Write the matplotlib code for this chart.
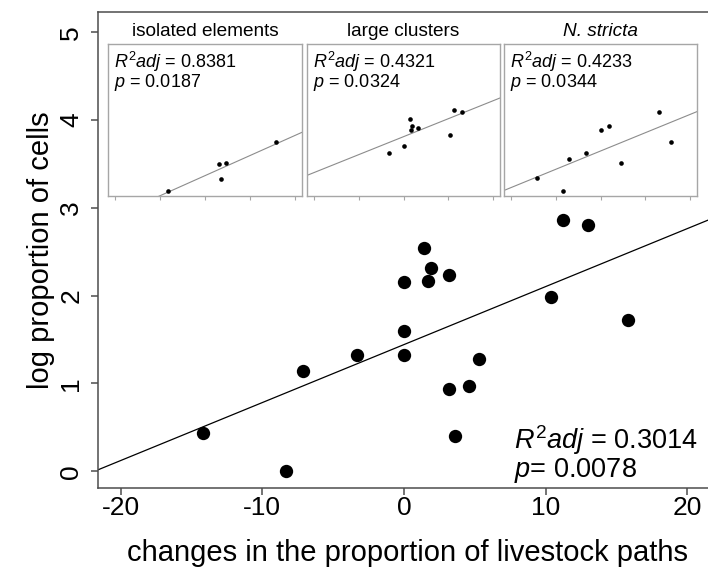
import numpy as np
import matplotlib
matplotlib.use("Agg")
import matplotlib.pyplot as plt

plt.rcParams["font.family"] = ["Liberation Sans", "DejaVu Sans"]
plt.rcParams["mathtext.fontset"] = "custom"
plt.rcParams["mathtext.rm"] = "Liberation Sans"
plt.rcParams["mathtext.it"] = "Liberation Sans:italic"

# change in the proportion of livestock paths (x) vs log proportion of cells (y)
path_change = [-14.2, -8.3, -7.1, -3.3, 0.0, 0.0, 0.0, 1.4, 1.9, 1.7,
               3.2, 3.2, 4.6, 5.3, 3.6, 11.2, 13.0, 10.4, 15.8]
log_cells = [0.44, 0.00, 1.14, 1.33, 2.15, 1.60, 1.33, 2.54, 2.32, 2.17,
             2.23, 0.94, 0.97, 1.28, 0.40, 2.86, 2.81, 1.99, 1.72]

# subsets shown in the small panels (indices into the arrays above)
panel_titles = ["isolated elements", "large clusters", "N. stricta"]
panel_members = [
    [1, 11, 12, 14, 18],
    [3, 5, 7, 8, 9, 10, 17, 15, 16],
    [0, 1, 2, 3, 4, 8, 12, 16, 18],
]
panel_r2 = ["0.8381", "0.4321", "0.4233"]
panel_p = ["0.0187", "0.0324", "0.0344"]

main_r2 = "0.3014"
main_p = "0.0078"

x_ticks = [-20, -10, 0, 10, 20]
y_ticks = [0, 1, 2, 3, 4, 5]
xlim = (-21.6, 21.6)
ylim = (-0.19, 5.23)

W, H = 708, 571
fig = plt.figure(figsize=(W / 100, H / 100), dpi=100)


def px_axes(x0, y0, x1, y1):
    return fig.add_axes([x0 / W, 1 - y1 / H, (x1 - x0) / W, (y1 - y0) / H])


def fig_xy(px, py):
    return px / W, 1 - py / H


spine_col = "#4d4d4d"
x = np.array(path_change)
y = np.array(log_cells)

ax = px_axes(98, 12, 710, 488)
ax.set_xlim(*xlim)
ax.set_ylim(*ylim)
ax.scatter(x, y, s=92, color="black", zorder=3, linewidths=0)
b, a = np.polyfit(x, y, 1)
xx = np.array(xlim)
ax.plot(xx, a + b * xx, color="black", lw=0.9, zorder=2)

for side in ["left", "bottom", "top"]:
    ax.spines[side].set_color(spine_col)
    ax.spines[side].set_linewidth(1.1)
ax.spines["right"].set_visible(False)
ax.set_xticks(x_ticks)
ax.set_yticks(y_ticks)
ax.set_xticklabels([str(t) for t in x_ticks])
ax.set_yticklabels([str(t) for t in y_ticks], rotation=90, va="center")
ax.tick_params(axis="both", direction="out", length=5.2, width=1.1,
               color=spine_col, labelsize=19, labelcolor="black")
ax.tick_params(axis="x", pad=0.5)
ax.tick_params(axis="y", pad=5.5)
ax.set_xlabel("changes in the proportion of livestock paths", fontsize=21)
ax.set_ylabel("log proportion of cells", fontsize=21)
ax.xaxis.set_label_coords(0.5 + 3 / 612, (488 - 539) / 476)
ax.yaxis.set_label_coords((55 - 98) / 612, 0.5)

fig.text(*fig_xy(514, 449), r"$R^{\mathrm{2}}adj$" + " = " + main_r2,
         fontsize=19.5, va="baseline", ha="left")
fig.text(*fig_xy(514, 477), r"$p$" + "= " + main_p,
         fontsize=19.5, va="baseline", ha="left")

panel_boxes = [(108, 302), (307, 500), (504, 697)]
inset_col = "#a6a6a6"
for (x0, x1), title, members, r2, pv in zip(panel_boxes, panel_titles,
                                            panel_members, panel_r2, panel_p):
    ins = px_axes(x0, 44, x1, 196)
    ins.set_xlim(*xlim)
    ins.set_ylim(*ylim)
    ins.set_facecolor("white")
    sx = x[members]
    sy = y[members]
    ins.scatter(sx, sy, s=11, color="black", zorder=3, linewidths=0)
    sb, sa = np.polyfit(sx, sy, 1)
    ins.plot(xx, sa + sb * xx, color="#8c8c8c", lw=0.8, zorder=2)
    for s in ins.spines.values():
        s.set_color(inset_col)
        s.set_linewidth(1.0)
    ins.set_xticks(x_ticks)
    ins.set_xticklabels([])
    ins.set_yticks([])
    ins.tick_params(axis="x", direction="out", length=3, width=0.8, color=inset_col)
    style = "italic" if title.startswith("N.") else "normal"
    ins.set_title(title, fontsize=13.7, style=style, pad=6)
    ins.text(0.032, 0.842, r"$R^{\mathrm{2}}adj$" + " = " + r2, fontsize=13,
             transform=ins.transAxes, va="baseline", ha="left")
    ins.text(0.032, 0.717, r"$p$" + " = " + pv, fontsize=13,
             transform=ins.transAxes, va="baseline", ha="left")

fig.savefig("out.png", dpi=100)
